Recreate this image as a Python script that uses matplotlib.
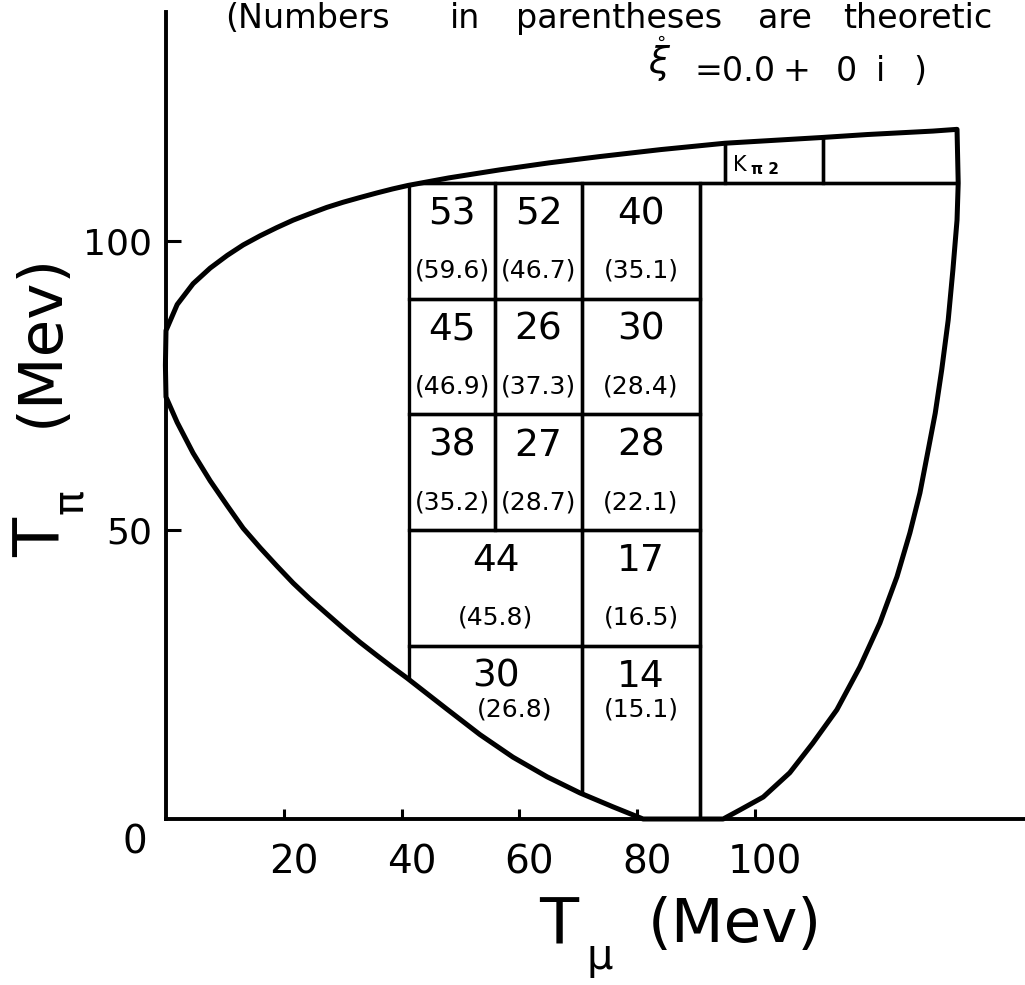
import numpy as np
import matplotlib.pyplot as plt
from matplotlib.patches import Polygon, Rectangle
from matplotlib.transforms import ScaledTranslation

plt.rcParams["font.family"] = "DejaVu Sans"
plt.rcParams["mathtext.fontset"] = "dejavusans"

# kinematic boundary (T_mu, T_pi in Mev), traced clockwise from the left tip
upper_tmu = [0.0, 1.9, 4.6, 7.5, 10.4, 13.1, 16.0, 18.8, 21.6, 24.4, 27.3, 30.1, 32.9,
             35.8, 38.5, 41.1, 48.0, 56.7, 65.0, 73.7, 84.0, 94.9, 111.5, 119.0, 124.6,
             130.2, 134.3]
upper_tpi = [84.5, 89.0, 92.6, 95.3, 97.5, 99.3, 100.9, 102.3, 103.6, 104.7, 105.8, 106.7,
             107.5, 108.3, 109.0, 109.6, 110.9, 112.3, 113.5, 114.6, 115.8, 116.9, 117.9,
             118.4, 118.7, 119.0, 119.3]
right_tmu = [134.5, 134.3, 133.6, 132.8, 131.7, 130.6, 129.4, 128.0, 126.3, 124.1, 121.2,
             117.8, 113.9, 109.8, 105.9, 101.4, 97.5, 94.6]
right_tpi = [110.0, 103.6, 95.0, 86.3, 77.7, 70.2, 63.8, 56.4, 49.5, 41.9, 33.9, 26.3,
             18.9, 13.1, 8.0, 3.8, 1.6, 0.0]
lower_tmu = [81.0, 75.9, 70.3, 64.7, 58.9, 53.3, 47.7, 40.9, 38.5, 35.8, 32.9, 30.1, 27.3,
             24.4, 21.6, 18.8, 16.0, 13.1, 10.4, 7.5, 4.6, 1.9, 0.0, -0.1]
lower_tpi = [0.0, 2.1, 4.5, 7.3, 10.7, 14.6, 19.0, 24.4, 26.2, 28.3, 30.6, 33.0, 35.5,
             38.1, 40.8, 43.8, 46.9, 50.3, 54.2, 58.5, 63.3, 68.6, 73.0, 78.5]

# bins: event counts and theoretical expectation
cell_tmu_lo = [41.3, 55.9, 70.6, 41.3, 55.9, 70.6, 41.3, 55.9, 70.6, 41.3, 70.6, 41.3, 70.6]
cell_tmu_hi = [55.9, 70.6, 90.7, 55.9, 70.6, 90.7, 55.9, 70.6, 90.7, 70.6, 90.7, 70.6, 90.7]
cell_tpi_lo = [90, 90, 90, 70, 70, 70, 50, 50, 50, 30, 30, 0, 0]
cell_tpi_hi = [110, 110, 110, 90, 90, 90, 70, 70, 70, 50, 50, 30, 30]
observed = [53, 52, 40, 45, 26, 30, 38, 27, 28, 44, 17, 30, 14]
predicted = ["59.6", "46.7", "35.1", "46.9", "37.3", "28.4", "35.2", "28.7", "22.1",
             "45.8", "16.5", "26.8", "15.1"]

# empty region and the K_pi2 strip along the top
open_box = (90.7, 134.5, 0, 110)
strip_edges = [41.3, 94.9, 111.5, 134.5]
strip_tpi = (110, 125)

x_ticks = [20, 40, 60, 80, 100]
y_ticks = [50, 100]

W, H = 1025, 985


def fx(px):
    return px / W


def fy(py):
    return 1 - py / H


fig = plt.figure(figsize=(W / 100, H / 100), dpi=100)
ax = fig.add_axes([fx(166), fy(819), (W - 166) / W, (819 - 12) / H])
ax.set_xlim(0, 145.84)
ax.set_ylim(0, 139.6)

for side in ("top", "right"):
    ax.spines[side].set_visible(False)
for side in ("left", "bottom"):
    ax.spines[side].set_linewidth(2.8)

ax.set_xticks(x_ticks)
ax.set_yticks(y_ticks)
ax.tick_params(axis="x", direction="in", length=7, width=2.2, labelsize=28, pad=18)
ax.tick_params(axis="y", direction="in", length=11, width=2.2, labelsize=26, pad=10)
shift = ScaledTranslation(10 / 100, 0, fig.dpi_scale_trans)
for lab in ax.get_xticklabels():
    lab.set_transform(lab.get_transform() + shift)

# boundary curve
bx = upper_tmu + right_tmu + lower_tmu
by = upper_tpi + right_tpi + lower_tpi
boundary = Polygon(np.column_stack([bx, by]), closed=True, fill=False, ec="black",
                   lw=3.6, joinstyle="round", clip_on=False, zorder=4)
ax.add_patch(boundary)

# bin grid, cut off by the boundary
boxes = list(zip(cell_tmu_lo, cell_tmu_hi, cell_tpi_lo, cell_tpi_hi))
boxes.append(open_box)
for a, b in zip(strip_edges[:-1], strip_edges[1:]):
    boxes.append((a, b, strip_tpi[0], strip_tpi[1]))
for x0, x1, y0, y1 in boxes:
    r = Rectangle((x0, y0), x1 - x0, y1 - y0, fill=False, ec="black", lw=2.4, zorder=3)
    ax.add_patch(r)
    r.set_clip_path(boundary)

# numbers in each bin
for i in range(len(observed)):
    x0, x1 = cell_tmu_lo[i], cell_tmu_hi[i]
    y0, y1 = cell_tpi_lo[i], cell_tpi_hi[i]
    yc = y1 - 5.4
    yt = y0 + 4.8 if y0 > 0 else y1 - 11.0
    left_c = max(x0, np.interp(yc, lower_tpi[:-1], lower_tmu[:-1]))
    left_t = max(x0, np.interp(yt, lower_tpi[:-1], lower_tmu[:-1]))
    ax.text((left_c + x1) / 2, yc, str(observed[i]), fontsize=27,
            ha="center", va="center", zorder=5)
    ax.text((left_t + x1) / 2, yt, "(" + predicted[i] + ")", fontsize=18,
            ha="center", va="center", zorder=5)

ax.text(strip_edges[1] + 1.4, 113.1, "K", fontsize=15, ha="left", va="center")
ax.text(strip_edges[1] + 4.4, 112.4, "\u03c0 2", fontsize=11, fontweight="bold",
        ha="left", va="center")

# origin label and axis titles
fig.text(fx(135), fy(843), "0", fontsize=28, ha="center", va="center")
fig.text(fx(559), fy(926), "T", fontsize=46, ha="center", va="center")
fig.text(fx(600), fy(957), "\u03bc", fontsize=30, ha="center", va="center")
fig.text(fx(735), fy(925), "(Mev)", fontsize=44, ha="center", va="center")
fig.text(fx(41), fy(340), "(Mev)", fontsize=44, ha="center", va="center", rotation=90)
fig.text(fx(43), fy(537), "T", fontsize=46, ha="center", va="center", rotation=90)
fig.text(fx(70), fy(501), "\u03c0", fontsize=30, ha="center", va="center", rotation=90)

# note at the top
for word, px in zip(["(Numbers", "in", "parentheses", "are", "theoretic"],
                    [225, 450, 516, 758, 843]):
    fig.text(fx(px), fy(28), word, fontsize=24, ha="left", va="baseline")
fig.text(fx(648), fy(74), r"$\mathring{\xi}$", fontsize=27, ha="left", va="baseline")
for piece, px in zip(["=0.0", "+", "0", "i", ")"], [694, 782, 836, 876, 913]):
    fig.text(fx(px), fy(81), piece, fontsize=24, ha="left", va="baseline")

fig.savefig("out.png", dpi=100)
